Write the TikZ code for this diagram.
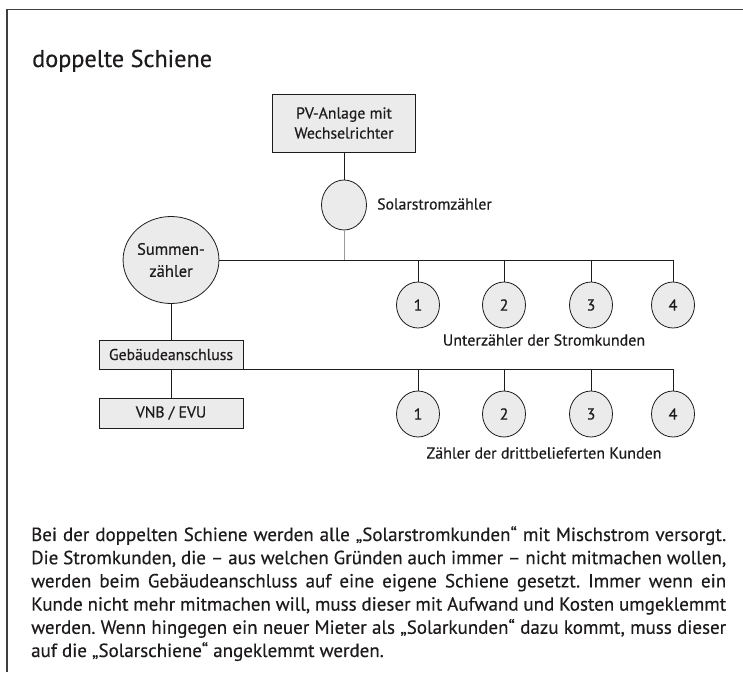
\documentclass[tikz,border=0pt]{standalone}
\usepackage{fontspec}
\setmainfont{PT Sans}[Numbers=Lining, FakeBold=0.4]
\usetikzlibrary{shapes.geometric}
\definecolor{ink}{HTML}{1E1B1C}
\definecolor{fillg}{HTML}{EBEBEB}
\definecolor{wiregray}{HTML}{9A9A9A}
\newcommand{\jline}[1]{\makebox[695pt][s]{#1}}
\begin{document}
\begin{tikzpicture}[x=1pt,y=-1pt,
  every node/.style={text=ink},
  box/.style={draw=ink, fill=fillg, line width=1pt, rectangle, inner sep=0pt,
    font=\fontsize{15.75}{20}\selectfont, align=center},
  meter/.style={draw=ink, fill=fillg, line width=0.8pt, ellipse, inner sep=0pt,
    minimum width=43, minimum height=46, font=\fontsize{16}{18}\selectfont},
  wire/.style={draw=ink, line width=1pt},
  lbl/.style={font=\fontsize{16}{18}\selectfont, inner sep=0pt},
  frame/.style={draw=ink!85, line width=1.5pt}]
\useasboundingbox (0,0) rectangle (743,672);
\draw[frame] (7,672) -- (7,9.5) -- (743,9.5);

\node[anchor=base west, inner sep=0pt, font=\fontsize{24.25}{26}\selectfont] (title) at (32,67) {doppelte Schiene};

\node[box, minimum width=143, minimum height=58] (pv) at (344,123) {PV-Anlage mit\\Wechselrichter};
\node[meter, minimum width=45, minimum height=50] (solar) at (344,205) {};
\node[lbl, anchor=west, font=\fontsize{15.75}{18}\selectfont] (solarlbl) at (377,204) {Solarstromzähler};
\node[meter, minimum width=90, minimum height=87, font=\fontsize{16.5}{22}\selectfont, align=center] (summen) at (171,260) {Summen-\\zähler};
\coordinate (j) at (344,260);

\foreach \i/\x in {1/418,2/504,3/591,4/673}{
  \node[meter] (c\i) at (\x,305) {\i};
  \node[meter] (d\i) at (\x,414) {\i};
}
\node[lbl] (l1) at (544,340) {Unterzähler der Stromkunden};
\node[lbl] (l2) at (544,453) {Zähler der drittbelieferten Kunden};

\node[box, minimum width=144, minimum height=29] (geb) at (171,354.5) {Gebäudeanschluss};
\node[box, minimum width=144, minimum height=30] (vnb) at (171,413) {VNB / EVU};

\draw[wire] (pv) -- (solar);
\draw[wire, draw=wiregray] (solar) -- (j);
\draw[wire] (summen.east) -| (c4.north);
\foreach \i in {1,2,3}{\draw[wire] (c\i.north) -- (c\i.north |- summen.east);}
\draw[wire] (summen) -- (geb);
\draw[wire] (geb) -- (vnb);
\draw[wire] (geb.south east) -| (d4.north);
\foreach \i in {1,2,3}{\draw[wire] (d\i.north) -- (d\i.north |- geb.south);}

\node[anchor=north west, inner sep=0pt, align=left,
  font=\fontsize{19}{23.2}\selectfont\frenchspacing] (para) at (31,526)
{\jline{Bei der doppelten Schiene werden alle „Solarstromkunden“ mit Mischstrom versorgt.}\\
\jline{Die Stromkunden, die – aus welchen Gründen auch immer – nicht mitmachen wollen,}\\
\jline{werden beim Gebäudeanschluss auf eine eigene Schiene gesetzt. Immer wenn ein}\\
\jline{Kunde nicht mehr mitmachen will, muss dieser mit Aufwand und Kosten umgeklemmt}\\
\jline{werden. Wenn hingegen ein neuer Mieter als „Solarkunden“ dazu kommt, muss dieser}\\
auf die „Solarschiene“ angeklemmt werden.};
\end{tikzpicture}
\end{document}
